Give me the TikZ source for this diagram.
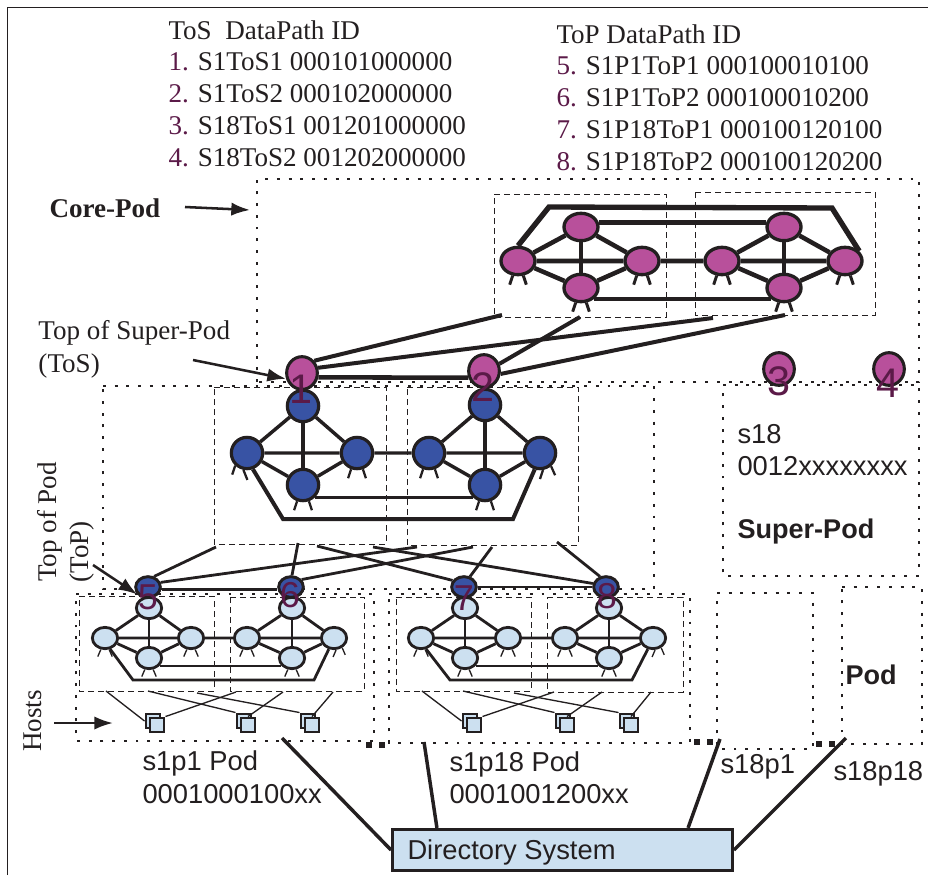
\documentclass[tikz,border=0pt]{standalone}
\usepackage{fontspec}
\setmainfont{Liberation Serif}
\setsansfont{Liberation Sans}
\usetikzlibrary{shapes.geometric,arrows.meta}

\definecolor{inkdark}{RGB}{35,31,32}
\definecolor{numred}{RGB}{91,26,72}
\definecolor{corepink}{RGB}{184,80,155}
\definecolor{tosblue}{RGB}{56,83,164}
\definecolor{podblue}{RGB}{204,224,240}

\tikzset{every picture/.style={line width=0.75pt}}
\tikzset{
  corenode/.style={ellipse,draw=inkdark,fill=corepink,line width=2.5pt,inner sep=0pt,minimum width=25.5pt,minimum height=20.5pt},
  tosnode/.style={ellipse,draw=inkdark,fill=corepink,line width=2.3pt,inner sep=0pt,minimum width=23pt,minimum height=24.5pt},
  spinenode/.style={circle,draw=inkdark,fill=tosblue,line width=2.4pt,inner sep=0pt,minimum size=23.5pt},
  topnode/.style={ellipse,draw=inkdark,fill=tosblue,line width=2.2pt,inner sep=0pt,minimum width=18.5pt,minimum height=15.5pt},
  podnode/.style={ellipse,draw=inkdark,fill=podblue,line width=2.1pt,inner sep=0pt,minimum width=19pt,minimum height=16pt},
  hostnode/.style={rectangle,draw=inkdark,fill=podblue,line width=1.7pt,inner sep=0pt,minimum size=11pt},
  corelink/.style={draw=inkdark,line width=3.4pt},
  spinelink/.style={draw=inkdark,line width=2.6pt},
  podlink/.style={draw=inkdark,line width=2.1pt},
  hostlink/.style={draw=inkdark,line width=1pt},
  dashbox/.style={draw=inkdark,line width=0.7pt,dash pattern=on 4.5pt off 3pt},
  dotbox/.style={draw=inkdark,line width=2.2pt,dash pattern=on 2.2pt off 6.6pt},
  dotmark/.style={rectangle,fill=inkdark,inner sep=0pt,minimum size=4pt},
  pointer/.style={draw=inkdark,line width=1.9pt,-{Latex[length=14pt,width=10pt]}},
  corelegs/.style={draw=inkdark,line width=2.2pt},
  podlegs/.style={draw=inkdark,line width=1pt},
  serif/.style={text=inkdark,anchor=west,inner sep=0pt,font=\fontsize{20.3}{24}\selectfont},
  sans/.style={text=inkdark,anchor=west,inner sep=0pt,font=\sffamily\fontsize{20.5}{24}\selectfont},
  bignum/.style={text=numred,font=\sffamily\fontsize{31}{31}\selectfont},
  midnum/.style={text=numred,font=\sffamily\fontsize{27}{27}\selectfont}
}

\begin{document}
\begin{tikzpicture}[x=0.75pt,y=0.75pt,yscale=-1,xscale=1]
\useasboundingbox (0,0) rectangle (928,875);

%Shape: Frame
\draw [draw=inkdark,line width=0.75pt] (7.5,875) -- (7.5,7.5) -- (928,7.5) ;

%Shape: Dotted Pods
\draw [dotbox] (257,382) -- (257,179) -- (919,179) -- (919,382) -- cycle ;
\draw [dotbox] (103,386) -- (654,386) -- (654,589) -- (103,589) -- cycle ;
\draw [dotbox] (723,385) -- (919,385) -- (919,576) -- (723,576) -- cycle ;
\draw [dotbox] (76,594) -- (374,594) -- (374,741) -- (76,741) -- cycle ;
\draw [dotbox] (389,594) -- (690,594) -- (690,743) -- (389,743) -- cycle ;
\draw [dotbox] (717,593) -- (813,593) -- (813,749) -- (717,749) -- cycle ;
\draw [dotbox] (842,587) -- (922,587) -- (922,744) -- (842,744) -- cycle ;
\draw (369,745) node (markA) [dotmark] {};
\draw (382,745) node (markB) [dotmark] {};
\draw (697,742) node (markC) [dotmark] {};
\draw (710,742) node (markD) [dotmark] {};
\draw (819,744) node (markE) [dotmark] {};
\draw (832,744) node (markF) [dotmark] {};

%Shape: Dashed Boxes
\draw [dashbox] (494,194) -- (666,194) -- (666,317) -- (494,317) -- cycle ;
\draw [dashbox] (695,192) -- (875,192) -- (875,315) -- (695,315) -- cycle ;
\draw [dashbox] (214,387) -- (386,387) -- (386,544) -- (214,544) -- cycle ;
\draw [dashbox] (407,387) -- (578,387) -- (578,545) -- (407,545) -- cycle ;
\draw [dashbox] (79,596) -- (214,596) -- (214,691) -- (79,691) -- cycle ;
\draw [dashbox] (230,597) -- (364,597) -- (364,691) -- (230,691) -- cycle ;
\draw [dashbox] (396,597) -- (531,597) -- (531,691) -- (396,691) -- cycle ;
\draw [dashbox] (547,597) -- (683,597) -- (683,692) -- (547,692) -- cycle ;

%Shape: Core Mesh
\draw (518,261) node (coreA) [corenode] {};
\draw (581,227) node (coreB) [corenode] {};
\draw (642,261) node (coreC) [corenode] {};
\draw (581,288) node (coreD) [corenode] {};
\draw (722,261) node (coreE) [corenode] {};
\draw (784,227) node (coreF) [corenode] {};
\draw (845,261) node (coreG) [corenode] {};
\draw (784,288) node (coreH) [corenode] {};
\draw [corelink] (coreA) -- (coreB) -- (coreC) -- (coreD) -- (coreA) -- (coreC) -- (coreE) -- (coreF) -- (coreG) -- (coreH) -- (coreE) -- (coreG) ;
\draw [corelink] (coreB) -- (coreD) ;
\draw [corelink] (coreF) -- (coreH) ;
\draw [corelink] (coreB.14) -- (coreF.166) ;
\draw [corelink] (coreD.-41) -- (coreH.-139) ;
\draw [corelink,line width=4pt] (coreA.90) -- (549,207) -- (832,208) -- (coreG.35) ;
\draw [corelegs] (coreA.-110) -- +(-3,9) (coreA.-70) -- +(3,9) ;
\draw [corelegs] (coreC.-110) -- +(-3,9) (coreC.-70) -- +(3,9) ;
\draw [corelegs] (coreD.-110) -- +(-3,9) (coreD.-70) -- +(3,9) ;
\draw [corelegs] (coreE.-110) -- +(-3,9) (coreE.-70) -- +(3,9) ;
\draw [corelegs] (coreG.-110) -- +(-3,9) (coreG.-70) -- +(3,9) ;
\draw [corelegs] (coreH.-110) -- +(-3,9) (coreH.-70) -- +(3,9) ;

%Shape: ToS Switches
\draw (302,373) node (tosA) [tosnode] {};
\draw (484,371) node (tosB) [tosnode] {};
\draw (779,369) node (tosC) [tosnode] {};
\draw (889,369) node (tosD) [tosnode] {};
\draw [corelink] (tosA.-15) -- (tosB.-157) ;
\coordinate (coreBotA) at (502,315);
\coordinate (coreBotB) at (580,317);
\coordinate (coreBotC) at (713,318);
\coordinate (coreBotD) at (785,315);
\draw [corelink,line width=3pt] (coreBotA) -- (tosA.45) ;
\draw [corelink,line width=3pt] (coreBotC) -- (tosA.18) ;
\draw [corelink,line width=3pt] (coreBotB) -- (tosB.25) ;
\draw [corelink,line width=3pt] (coreBotD) -- (tosB.-10) ;

%Shape: Super-Pod Mesh
\draw (247,453) node (spineA) [spinenode] {};
\draw (303,406) node (spineB) [spinenode] {};
\draw (357,453) node (spineC) [spinenode] {};
\draw (303,485) node (spineD) [spinenode] {};
\draw (429,453) node (spineE) [spinenode] {};
\draw (485,405) node (spineF) [spinenode] {};
\draw (540,453) node (spineG) [spinenode] {};
\draw (485,485) node (spineH) [spinenode] {};
\draw [spinelink] (spineA) -- (spineB) -- (spineC) -- (spineD) -- (spineA) -- (spineC) -- (spineE) -- (spineF) -- (spineG) -- (spineH) -- (spineE) -- (spineG) ;
\draw [spinelink] (spineB) -- (spineD) ;
\draw [spinelink] (spineF) -- (spineH) ;
\draw [spinelink,line width=2.1pt] (spineD.-45) -- (spineH.-135) ;
\draw [spinelink,line width=3pt] (spineA.-70) -- (283,519) -- (513,519) -- (spineG.-108) ;
\draw [corelegs,line width=1.7pt] (spineA.-133) -- +(-3,9) (spineA.-102) -- +(4,10) ;
\draw [corelegs,line width=1.7pt] (spineC.-110) -- +(-3,9) (spineC.-70) -- +(3,9) ;
\draw [corelegs,line width=1.7pt] (spineD.-110) -- +(-3,9) (spineD.-70) -- +(3,9) ;
\draw [corelegs,line width=1.7pt] (spineE.-110) -- +(-3,9) (spineE.-70) -- +(3,9) ;
\draw [corelegs,line width=1.7pt] (spineG.-80) -- +(-3,9) (spineG.-50) -- +(4,9) ;
\draw [corelegs,line width=1.7pt] (spineH.-110) -- +(-3,9) (spineH.-70) -- +(3,9) ;

%Shape: ToP Switches
\draw (148,587) node (topA) [topnode] {};
\draw (291,587) node (topB) [topnode] {};
\draw (464,587) node (topC) [topnode] {};
\draw (606,587) node (topD) [topnode] {};
\draw [podlink] (topA.-10) -- (topB.190) ;
\draw [podlink] (topC) -- (topD) ;
\coordinate (spineBotA) at (216,547);
\coordinate (spineBotB) at (417,547);
\coordinate (spineBotC) at (473,547);
\coordinate (spineBotD) at (298,543);
\coordinate (spineBotE) at (317,546);
\coordinate (spineBotF) at (492,547);
\coordinate (spineBotG) at (373,547);
\coordinate (spineBotH) at (557,542);
\draw [podlink] (spineBotA) -- (topA.60) ;
\draw [podlink] (spineBotB) -- (topA.20) ;
\draw [podlink] (spineBotC) -- (topB.35) ;
\draw [podlink] (spineBotD) -- (topB.85) ;
\draw [podlink] (spineBotE) -- (topC.150) ;
\draw [podlink] (spineBotF) -- (topC.60) ;
\draw [podlink] (spineBotG) -- (topD.165) ;
\draw [podlink] (spineBotH) -- (topD.120) ;

%Shape: s1p1 Mesh
\draw (105,638) node (podA) [podnode] {};
\draw (149,608) node (podB) [podnode] {};
\draw (191,638) node (podC) [podnode] {};
\draw (149,658) node (podD) [podnode] {};
\draw (247,638) node (podE) [podnode] {};
\draw (292,608) node (podF) [podnode] {};
\draw (334,638) node (podG) [podnode] {};
\draw (292,658) node (podH) [podnode] {};
\draw [podlink] (podA) -- (podB) -- (podC) -- (podD) -- (podA) -- (podC) -- (podE) -- (podF) -- (podG) -- (podH) -- (podE) -- (podG) ;
\draw [podlink] (podB) -- (podD) ;
\draw [podlink] (podF) -- (podH) ;
\draw [podlink] (podD.-37) -- (podH.-143) ;
\draw [podlink] (podA.-65) -- (133,680) -- (314,680) -- (podG.-115) ;
\draw [podlegs] (podA.-110) -- +(-3,7) (podA.-70) -- +(3,7) ;
\draw [podlegs] (podC.-110) -- +(-3,7) (podC.-70) -- +(3,7) ;
\draw [podlegs] (podD.-110) -- +(-3,7) (podD.-70) -- +(3,7) ;
\draw [podlegs] (podE.-110) -- +(-3,7) (podE.-70) -- +(3,7) ;
\draw [podlegs] (podG.-80) -- +(-3,7) (podG.-50) -- +(3,7) ;
\draw [podlegs] (podH.-110) -- +(-3,7) (podH.-70) -- +(3,7) ;

%Shape: s1p18 Mesh
\draw (421,638) node (pedA) [podnode] {};
\draw (465,608) node (pedB) [podnode] {};
\draw (508,638) node (pedC) [podnode] {};
\draw (465,658) node (pedD) [podnode] {};
\draw (565,638) node (pedE) [podnode] {};
\draw (609,608) node (pedF) [podnode] {};
\draw (653,638) node (pedG) [podnode] {};
\draw (609,658) node (pedH) [podnode] {};
\draw [podlink] (pedA) -- (pedB) -- (pedC) -- (pedD) -- (pedA) -- (pedC) -- (pedE) -- (pedF) -- (pedG) -- (pedH) -- (pedE) -- (pedG) ;
\draw [podlink] (pedB) -- (pedD) ;
\draw [podlink] (pedF) -- (pedH) ;
\draw [podlink] (pedD.-37) -- (pedH.-143) ;
\draw [podlink] (pedA.-65) -- (450,680) -- (632,680) -- (pedG.-115) ;
\draw [podlegs] (pedA.-110) -- +(-3,7) (pedA.-70) -- +(3,7) ;
\draw [podlegs] (pedC.-110) -- +(-3,7) (pedC.-70) -- +(3,7) ;
\draw [podlegs] (pedD.-110) -- +(-3,7) (pedD.-70) -- +(3,7) ;
\draw [podlegs] (pedE.-110) -- +(-3,7) (pedE.-70) -- +(3,7) ;
\draw [podlegs] (pedG.-80) -- +(-3,7) (pedG.-50) -- +(3,7) ;
\draw [podlegs] (pedH.-110) -- +(-3,7) (pedH.-70) -- +(3,7) ;

%Shape: Hosts
\draw (153,721) node (hostAback) [hostnode] {};
\draw (157,725) node (hostA) [hostnode] {};
\draw (244,721) node (hostBback) [hostnode] {};
\draw (248,725) node (hostB) [hostnode] {};
\draw (308,721) node (hostCback) [hostnode] {};
\draw (312,725) node (hostC) [hostnode] {};
\draw (470,721) node (hostDback) [hostnode] {};
\draw (474,725) node (hostD) [hostnode] {};
\draw (563,721) node (hostEback) [hostnode] {};
\draw (567,725) node (hostE) [hostnode] {};
\draw (627,721) node (hostFback) [hostnode] {};
\draw (631,725) node (hostF) [hostnode] {};
\coordinate (podBotA) at (106,691);
\coordinate (podBotB) at (148,691);
\coordinate (podBotC) at (197,693);
\coordinate (podBotD) at (236,692);
\coordinate (podBotE) at (283,692);
\coordinate (podBotF) at (333,692);
\coordinate (pedBotA) at (422,691);
\coordinate (pedBotB) at (463,691);
\coordinate (pedBotC) at (514,693);
\coordinate (pedBotD) at (554,692);
\coordinate (pedBotE) at (602,692);
\coordinate (pedBotF) at (651,692);
\draw [hostlink] (podBotA) -- (hostAback.west) ;
\draw [hostlink] (podBotD) -- (hostA.north east) ;
\draw [hostlink] (podBotB) -- (hostBback.north west) ;
\draw [hostlink] (podBotE) -- (hostB.north) ;
\draw [hostlink] (podBotC) -- (hostCback.north west) ;
\draw [hostlink] (podBotF) -- (hostC.north) ;
\draw [hostlink] (pedBotA) -- (hostDback.west) ;
\draw [hostlink] (pedBotD) -- (hostD.north east) ;
\draw [hostlink] (pedBotB) -- (hostEback.north west) ;
\draw [hostlink] (pedBotE) -- (hostE.north) ;
\draw [hostlink] (pedBotC) -- (hostFback.north west) ;
\draw [hostlink] (pedBotF) -- (hostF.north) ;

%Shape: Directory
\draw (562.5,850) node (dirbox) [draw=inkdark,fill=podblue,line width=2.2pt,inner sep=0pt,minimum width=255pt,minimum height=31pt] {};
\coordinate (podEndA) at (282,738);
\coordinate (podEndB) at (424,742);
\coordinate (podEndC) at (720,739);
\coordinate (podEndD) at (846,738);
\draw [spinelink] (podEndA) -- (dirbox.west) ;
\draw [spinelink] (podEndB) -- (dirbox.170) ;
\draw [spinelink] (podEndC) -- (dirbox.10) ;
\draw [spinelink] (podEndD) -- (dirbox.east) ;

% Text Node
\draw (168,30) node (tosTitle) [serif] {ToS~ DataPath ID};
\draw (168,62) node (tosOne) [serif] {\textcolor{numred}{1.} S1ToS1 000101000000};
\draw (168,94) node (tosTwo) [serif] {\textcolor{numred}{2.} S1ToS2 000102000000};
\draw (168,126) node (tosThree) [serif] {\textcolor{numred}{3.} S18ToS1 001201000000};
\draw (168,158) node (tosFour) [serif] {\textcolor{numred}{4.} S18ToS2 001202000000};
% Text Node
\draw (556,34) node (topTitle) [serif] {ToP DataPath ID};
\draw (556,66) node (topFive) [serif] {\textcolor{numred}{5.} S1P1ToP1 000100010100};
\draw (556,98) node (topSix) [serif] {\textcolor{numred}{6.} S1P1ToP2 000100010200};
\draw (556,130) node (topSeven) [serif] {\textcolor{numred}{7.} S1P18ToP1 000100120100};
\draw (556,162) node (topEight) [serif] {\textcolor{numred}{8.} S1P18ToP2 000100120200};
% Text Node
\draw (49,208) node (coreLabel) [serif,font=\bfseries\fontsize{20.3}{24}\selectfont] {Core-Pod};
\coordinate (coreArrowStart) at (185,207);
\coordinate (coreArrowEnd) at (250,210);
\draw [pointer] (coreArrowStart) -- (coreArrowEnd) ;
\draw (38,333) node (tosLabel) [serif] {Top of Super-Pod};
\draw (38,366) node (tosLabelB) [serif] {(ToS)};
\coordinate (tosArrowStart) at (193,360);
\draw [pointer] (tosArrowStart) -- (tosA.200) ;
\draw (50,522) node (topLabel) [serif,anchor=center,rotate=90] {Top of Pod};
\draw (82,552) node (topLabelB) [serif,anchor=center,rotate=90] {(ToP)};
\coordinate (topArrowStart) at (93,565);
\draw [pointer] (topArrowStart) -- (topA.215) ;
\draw (33,721) node (hostLabel) [serif,anchor=center,rotate=90] {Hosts};
\coordinate (hostArrowStart) at (54,723);
\coordinate (hostArrowEnd) at (113,723);
\draw [pointer] (hostArrowStart) -- (hostArrowEnd) ;
% Text Node
\draw (301,389) node (numOne) [bignum] {1};
\draw (483,387) node (numTwo) [bignum] {2};
\draw (779,381) node (numThree) [bignum] {3};
\draw (888,383) node (numFour) [bignum] {4};
\draw (148,597) node (numFive) [midnum] {5};
\draw (290,595) node (numSix) [midnum] {6};
\draw (464,598) node (numSeven) [midnum] {7};
\draw (607,596) node (numEight) [midnum] {8};
% Text Node
\draw (737,434) node (superA) [sans] {s18};
\draw (737,466) node (superB) [sans] {0012xxxxxxxx};
\draw (737,531) node (superC) [sans,font=\sffamily\bfseries\fontsize{20.3}{24}\selectfont] {Super-Pod};
\draw (845,675) node (podLabel) [sans,font=\sffamily\bfseries\fontsize{20.3}{24}\selectfont] {Pod};
\draw (142,763) node (podNameA) [sans] {s1p1 Pod};
\draw (142,794) node (podIdA) [sans] {0001000100xx};
\draw (449,764) node (podNameB) [sans] {s1p18 Pod};
\draw (449,794) node (podIdB) [sans] {0001001200xx};
\draw (720,767) node (podNameC) [sans] {s18p1};
\draw (833,774) node (podNameD) [sans] {s18p18};
\draw (407,852) node (dirLabel) [sans] {Directory System};

\end{tikzpicture}
\end{document}
